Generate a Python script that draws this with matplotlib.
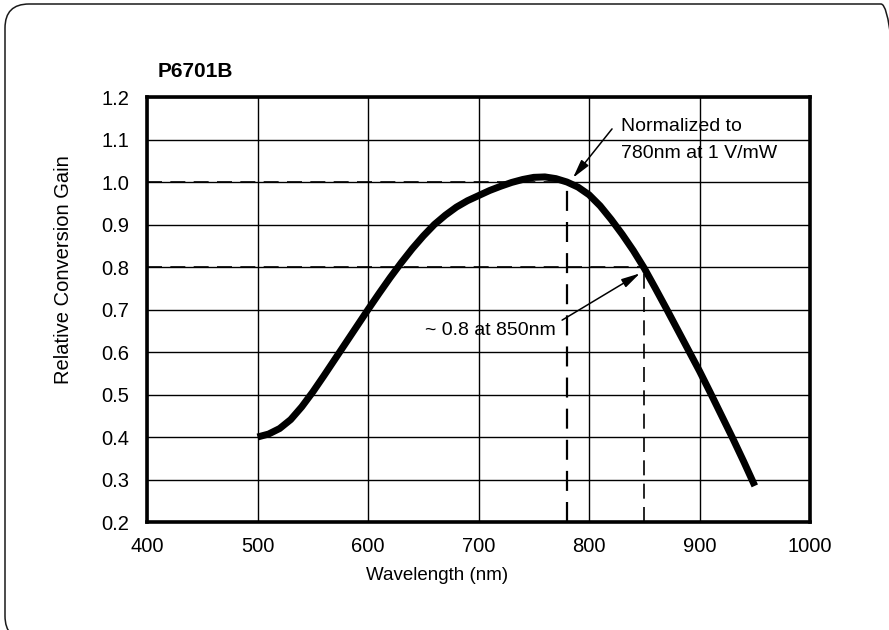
import matplotlib
matplotlib.use('Agg')
import matplotlib.pyplot as plt
from matplotlib.patches import FancyBboxPatch
from matplotlib.transforms import IdentityTransform

# curve, every 10 nm
wavelength = [500, 510, 520, 530, 540, 550, 560, 570, 580, 590, 600, 610, 620, 630,
              640, 650, 660, 670, 680, 690, 700, 710, 720, 730, 740, 750, 760, 770,
              780, 790, 800, 810, 820, 830, 840, 850, 860, 870, 880, 890, 900, 910,
              920, 930, 940, 950]
gain = [0.400, 0.407, 0.420, 0.441, 0.471, 0.506, 0.544, 0.583, 0.622, 0.661, 0.700,
        0.738, 0.775, 0.810, 0.843, 0.873, 0.900, 0.922, 0.941, 0.956, 0.968, 0.980,
        0.990, 0.999, 1.006, 1.011, 1.012, 1.008, 1.000, 0.988, 0.970, 0.944, 0.912,
        0.877, 0.839, 0.797, 0.750, 0.702, 0.653, 0.604, 0.555, 0.503, 0.450, 0.397,
        0.342, 0.285]

xticks = [400, 500, 600, 700, 800, 900, 1000]
yticks = [0.2, 0.3, 0.4, 0.5, 0.6, 0.7, 0.8, 0.9, 1.0, 1.1, 1.2]
ytick_labels = ['0.2', '0.3', '0.4', '0.5', '0.6', '0.7', '0.8', '0.9', '1.0', '1.1', '1.2']

norm_wl, norm_gain = 780, 1.0
ref_wl, ref_gain = 850, 0.8

plt.rcParams['font.family'] = ['Liberation Sans', 'DejaVu Sans']
fs = 14.5

fig = plt.figure(figsize=(8.89, 6.3), dpi=100)
ax = fig.add_axes([0.1654, 0.1714, 0.7458, 0.6746])

# rounded frame, partly cut off at right and bottom
frame = FancyBboxPatch((5, -10), 900, 636, boxstyle='round,pad=0,rounding_size=24',
                       transform=IdentityTransform(), fill=False, lw=1.1, ec='#1a1a1a')
fig.patches.append(frame)

ax.plot(wavelength, gain, color='black', lw=5, solid_capstyle='butt',
        solid_joinstyle='round', zorder=5)

dash = (0, (9, 5))
ax.plot([400, norm_wl], [norm_gain, norm_gain], color='black', lw=1.2, ls=dash, zorder=4)
ax.plot([norm_wl, norm_wl], [0.2, norm_gain], color='black', lw=1.6, ls=dash, zorder=4)
ax.plot([400, ref_wl], [ref_gain, ref_gain], color='black', lw=1.2, ls=dash, zorder=4)
ax.plot([ref_wl, ref_wl], [0.2, ref_gain], color='black', lw=1.2, ls=dash, zorder=4)

arrow = dict(arrowstyle='-|>,head_length=0.8,head_width=0.2', mutation_scale=14,
             color='black', lw=1.1, shrinkA=0, shrinkB=0)
ax.annotate('', xy=(785.5, 1.010), xytext=(820.8, 1.125), arrowprops=arrow, zorder=6)
ax.annotate('', xy=(846, 0.785), xytext=(775.6, 0.675), arrowprops=arrow, zorder=6)

ax.text(829, 1.120, 'Normalized to', fontsize=fs - 0.5, ha='left', va='baseline')
ax.text(829, 1.057, '780nm at 1 V/mW', fontsize=fs - 0.5, ha='left', va='baseline')
ax.text(770, 0.640, '~ 0.8 at 850nm', fontsize=fs - 0.5, ha='right', va='baseline')

ax.set_xlim(400, 1000)
ax.set_ylim(0.2, 1.2)
ax.set_xticks(xticks)
ax.set_yticks(yticks)
ax.set_yticklabels(ytick_labels)
ax.tick_params(length=0, labelsize=fs)
ax.tick_params(axis='y', pad=13)
ax.tick_params(axis='x', pad=11)
ax.grid(True, color='black', lw=1.0)
for s in ax.spines.values():
    s.set_linewidth(2.6)

ax.set_xlabel('Wavelength (nm)', fontsize=13.5)
ax.set_ylabel('Relative Conversion Gain', fontsize=fs)
ax.xaxis.set_label_coords(0.438, -0.106)
ax.yaxis.set_label_coords(-0.1116, 0.593)

fig.text(158 / 889, 1 - 77 / 630, 'P6701B', fontsize=15, fontweight='bold',
         ha='left', va='baseline')

fig.savefig('out.png', dpi=100)
